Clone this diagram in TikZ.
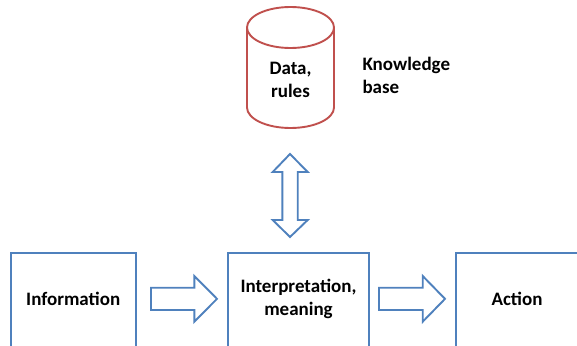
\documentclass[tikz,border=0pt]{standalone}
\usepackage{fontspec}
\setmainfont{Carlito}
\definecolor{boxblue}{HTML}{4F81BD}
\definecolor{cylred}{HTML}{C0504D}
\begin{document}
\begin{tikzpicture}[x=1pt,y=-1pt,
  lbl/.style={font=\fontsize{19}{23}\selectfont\bfseries, align=center, text=black},
  bluebox/.style={draw=boxblue, line width=1.9pt},
  blockarrow/.style={draw=boxblue, line width=1.9pt, fill=white, line join=miter},
  cyl/.style={draw=cylred, line width=1.9pt}]
\useasboundingbox (0,0) rectangle (577,345);
\begin{scope}
\clip (0,0) rectangle (577,345);
% boxes
\draw[bluebox] (10.7,252.7) rectangle (135.7,360);
\draw[bluebox] (227.7,252.7) rectangle (369,360);
\draw[bluebox] (455.7,252.7) rectangle (578,360);
\end{scope}
\node[lbl] (info) at (73.2,299) {Information};
\node[lbl] (interp) at (298.5,299) {Interpretation,\\meaning};
\node[lbl] (action) at (517,299) {Action};
% cylinder
\draw[cyl] (290.5,27.5) ellipse[x radius=43.5, y radius=20.5];
\draw[cyl] (247,27.5) -- (247,107.5) arc[start angle=180, end angle=0, x radius=43.5, y radius=20.5] -- (334,27.5);
\node[lbl] (kb) at (290.5,80) {Data,\\rules};
\node[lbl, anchor=west, align=left] (kbl) at (359,75) {Knowledge\\base};
% block arrows
\draw[blockarrow] (151,287.7) -- (194.3,287.7) -- (194.3,276) -- (217,298.85) -- (194.3,321.7) -- (194.3,310) -- (151,310) -- cycle;
\draw[blockarrow] (379,287.7) -- (422.7,287.7) -- (422.7,276) -- (445,298.85) -- (422.7,321.7) -- (422.7,310) -- (379,310) -- cycle;
% double arrow
\draw[blockarrow] (290,154) -- (307.7,172) -- (297.7,172) -- (297.7,220) -- (307.7,220) -- (290,237) -- (272.7,220) -- (282.3,220) -- (282.3,172) -- (272.7,172) -- cycle;
\end{tikzpicture}
\end{document}
